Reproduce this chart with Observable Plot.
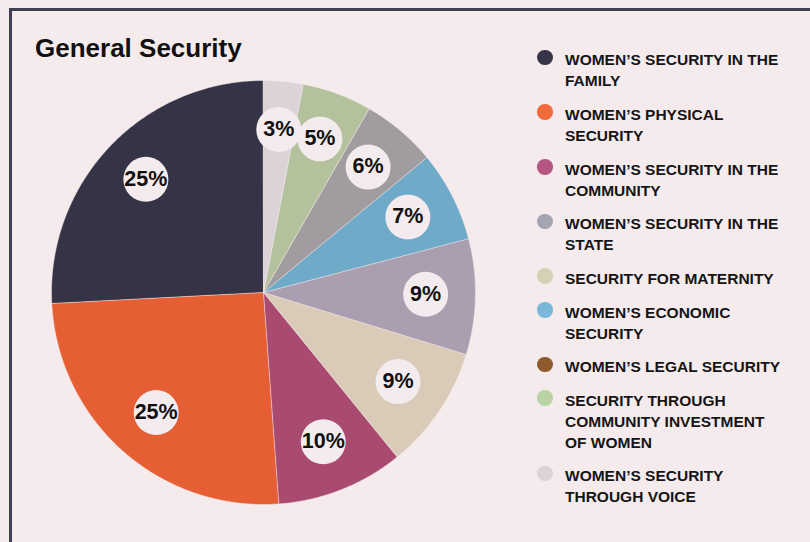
<!DOCTYPE html>
<html>
<head>
<meta charset="utf-8">
<script src="https://cdn.jsdelivr.net/npm/d3@7"></script>
<script src="https://cdn.jsdelivr.net/npm/@observablehq/plot@0.6"></script>
<style>
  html, body { margin: 0; padding: 0; background: #f5ebed; overflow: hidden; }
  body { width: 810px; height: 542px; position: relative; font-family: "Liberation Sans", Arial, sans-serif; }
  #frame { position: absolute; left: 9px; top: 8px; width: 900px; height: 700px; border-left: 3px solid #3f3e52; border-top: 3px solid #3f3e52; }
  #chart { position: absolute; left: 0; top: 0; }
  #title { position: absolute; left: 35px; top: 34.5px; font-size: 26px; line-height: 26px; font-weight: 700; color: #111; letter-spacing: 0px; }
  #legend { position: absolute; left: 537px; top: 49.3px; display: flex; flex-direction: column; gap: 12.65px; }
  .item { position: relative; padding-left: 28px; font-size: 15.5px; line-height: 21px; font-weight: 700; color: #151515; letter-spacing: 0px; white-space: pre; }
  .sw { position: absolute; left: 0; top: 0.5px; width: 15.5px; height: 15.5px; border-radius: 50%; }
</style>
</head>
<body>
<div id="frame"></div>
<div id="chart"></div>
<div id="title">General Security</div>
<div id="legend"></div>
<script>
// Pie slices, counter-clockwise from 12 o'clock
const sliceNames = ["Family", "Physical", "Community", "Maternity", "State", "Economic", "Other", "Community investment", "Voice"];
const sliceValues = [25.8, 25.3, 9.7, 9.4, 8.8, 6.9, 5.7, 5.3, 3.0];
const sliceLabels = ["25%", "25%", "10%", "9%", "9%", "7%", "6%", "5%", "3%"];
const sliceColors = ["#353446", "#e55e34", "#a94a70", "#dacbb9", "#ab9eb0", "#6faac8", "#a09ca0", "#b3c29c", "#dcd3d8"];

// Legend
const legendLabels = [
  "WOMEN’S SECURITY IN THE\nFAMILY",
  "WOMEN’S PHYSICAL\nSECURITY",
  "WOMEN’S SECURITY IN THE\nCOMMUNITY",
  "WOMEN’S SECURITY IN THE\nSTATE",
  "SECURITY FOR MATERNITY",
  "WOMEN’S ECONOMIC\nSECURITY",
  "WOMEN’S LEGAL SECURITY",
  "SECURITY THROUGH\nCOMMUNITY INVESTMENT\nOF WOMEN",
  "WOMEN’S SECURITY\nTHROUGH VOICE"
];
const legendColors = ["#363449", "#f06a3c", "#b65582", "#a4a5b2", "#d6d1b5", "#79b8d8", "#8f5a2e", "#b9d3a4", "#dcd3d9"];

const cx = 263, cy = 292, R = 212, W = 810, H = 542;

const arcs = d3.pie().sort(null).value(d => d).startAngle(0).endAngle(-2 * Math.PI)(sliceValues);

const polyPts = [];
arcs.forEach((a, i) => {
  polyPts.push({slice: i, x: 0, y: 0, color: sliceColors[i]});
  const n = Math.max(8, Math.ceil(Math.abs(a.endAngle - a.startAngle) / 0.01));
  for (let k = 0; k <= n; k++) {
    const t = a.startAngle + (a.endAngle - a.startAngle) * k / n;
    polyPts.push({slice: i, x: Math.sin(t), y: Math.cos(t), color: sliceColors[i]});
  }
});

const labelR = 0.765;
const labelPts = arcs.map((a, i) => {
  const m = (a.startAngle + a.endAngle) / 2;
  return {x: labelR * Math.sin(m), y: labelR * Math.cos(m), label: sliceLabels[i]};
});

const plot = Plot.plot({
  width: W,
  height: H,
  margin: 0,
  style: {background: "transparent", overflow: "visible"},
  x: {domain: [-1, 1], range: [cx - R, cx + R], axis: null},
  y: {domain: [-1, 1], range: [cy + R, cy - R], axis: null},
  color: {type: "identity"},
  marks: [
    Plot.line(polyPts, {x: "x", y: "y", z: "slice", fill: "color", stroke: "#f5ebed", strokeWidth: 0.5, curve: "linear-closed"}),
    Plot.dot(labelPts, {x: "x", y: "y", r: 22.5, dy: -1.5, fill: "#f4ebee", stroke: "none"}),
    Plot.text(labelPts, {x: "x", y: "y", text: "label", dy: -2, fontSize: 21.5, fontWeight: 700, fill: "#111", fontFamily: "Liberation Sans, Arial, sans-serif"})
  ]
});
document.getElementById("chart").appendChild(plot);

const leg = document.getElementById("legend");
legendLabels.forEach((t, i) => {
  const d = document.createElement("div");
  d.className = "item";
  const s = document.createElement("span");
  s.className = "sw";
  s.style.background = legendColors[i];
  d.appendChild(s);
  d.appendChild(document.createTextNode(t));
  leg.appendChild(d);
});
</script>
</body>
</html>
